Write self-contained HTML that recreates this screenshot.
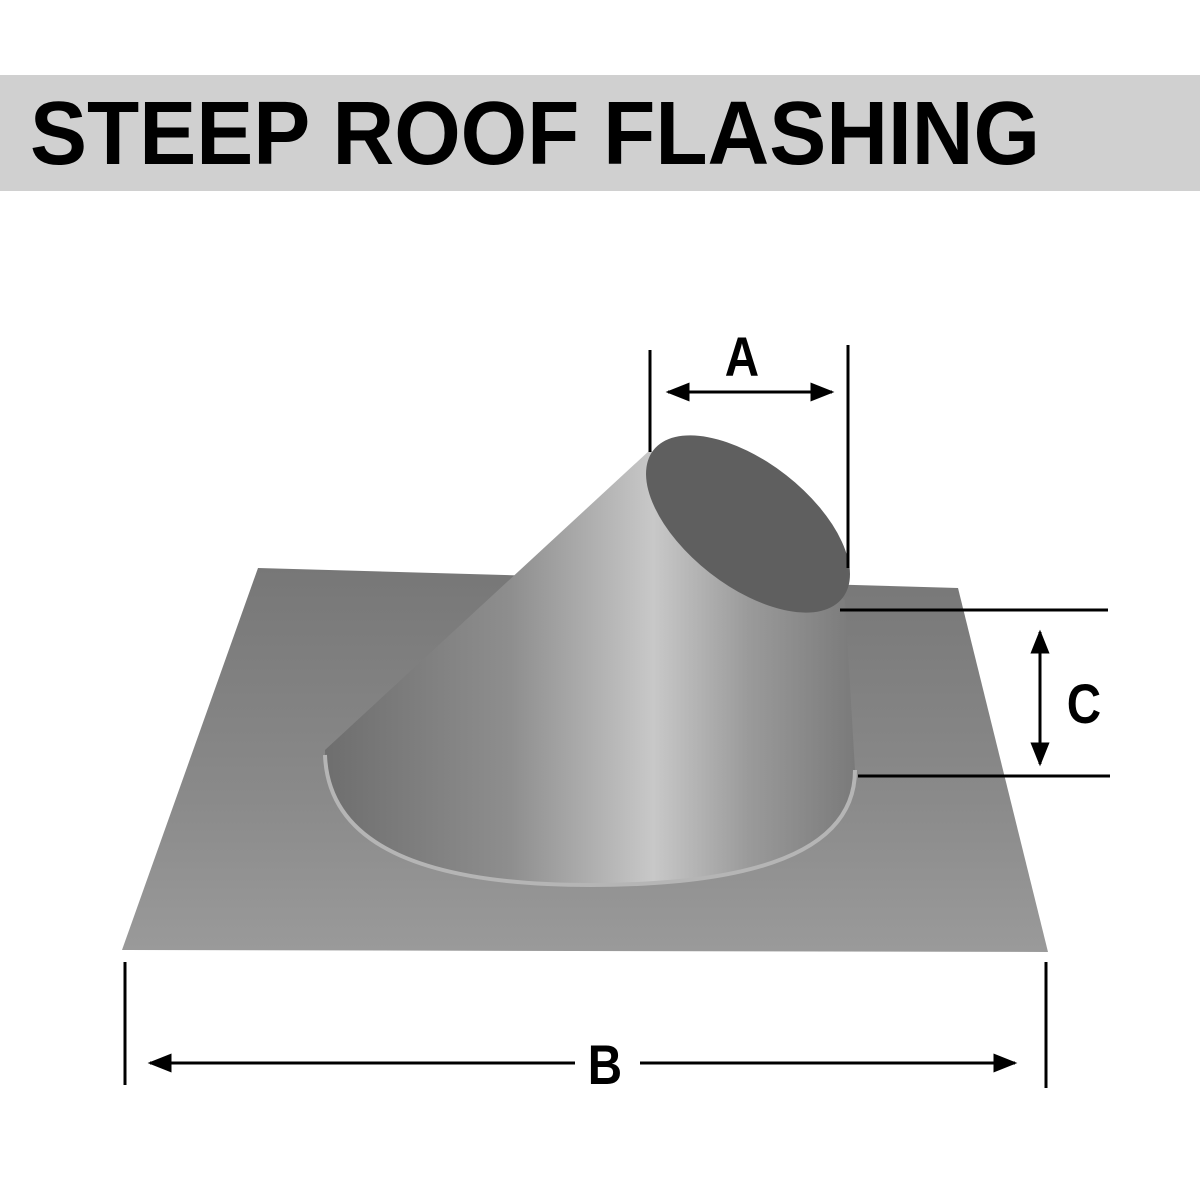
<!DOCTYPE html>
<html><head><meta charset="utf-8"><style>html,body{margin:0;padding:0;background:#fff;width:1200px;height:1200px;overflow:hidden}</style></head>
<body>
<svg width="1200" height="1200" viewBox="0 0 1200 1200" xmlns="http://www.w3.org/2000/svg">
<defs>
<linearGradient id="cone" x1="0" y1="0" x2="1" y2="0">
<stop offset="0" stop-color="#6e6e6e"/>
<stop offset="0.35" stop-color="#8e8e8e"/>
<stop offset="0.62" stop-color="#c8c8c8"/>
<stop offset="0.8" stop-color="#9a9a9a"/>
<stop offset="1" stop-color="#7a7a7a"/>
</linearGradient>
<linearGradient id="plate" x1="0" y1="0" x2="0" y2="1">
<stop offset="0" stop-color="#777"/>
<stop offset="0.6" stop-color="#8a8a8a"/>
<stop offset="1" stop-color="#9a9a9a"/>
</linearGradient>
<marker id="ar" viewBox="0 0 10 10" refX="9" refY="5" markerWidth="8" markerHeight="8" orient="auto-start-reverse"><path d="M0,1 L10,5 L0,9 z" fill="#000"/></marker>
</defs>
<rect x="0" y="75" width="1200" height="116" fill="#d0d0d0"/>
<text x="30" y="164" font-family="Liberation Sans, sans-serif" font-weight="bold" font-size="90" textLength="1010" lengthAdjust="spacingAndGlyphs" fill="#000">STEEP ROOF FLASHING</text>
<polygon points="258,568 958,588 1048,952 122,950" fill="url(#plate)"/>
<path d="M325,750 L650,450 L845,600 L855,770 Q855,885 590,885 Q325,885 325,750 Z" fill="url(#cone)"/>
<path d="M325,755 Q330,885 590,885 Q855,885 855,770" fill="none" stroke="#b5b5b5" stroke-width="4"/>
<ellipse cx="748" cy="524" rx="120" ry="62" transform="rotate(38 748 524)" fill="#5f5f5f"/>
<g stroke="#000" stroke-width="3" fill="none">
<line x1="650" y1="350" x2="650" y2="452"/>
<line x1="848" y1="345" x2="848" y2="568"/>
<line x1="668" y1="392" x2="832" y2="392" marker-start="url(#ar)" marker-end="url(#ar)"/>
<line x1="840" y1="610" x2="1108" y2="610"/>
<line x1="858" y1="776" x2="1110" y2="776"/>
<line x1="1040" y1="632" x2="1040" y2="764" marker-start="url(#ar)" marker-end="url(#ar)"/>
<line x1="125" y1="962" x2="125" y2="1085"/>
<line x1="1046" y1="962" x2="1046" y2="1088"/>
<line x1="150" y1="1063" x2="575" y2="1063" marker-start="url(#ar)"/>
<line x1="640" y1="1063" x2="1015" y2="1063" marker-end="url(#ar)"/>
</g>
<g font-family="Liberation Sans, sans-serif" font-weight="bold" font-size="56" fill="#000" text-anchor="middle">
<text x="742" y="376" transform="scale(0.85 1)" transform-origin="742 376">A</text>
<text x="1084" y="723" transform="scale(0.85 1)" transform-origin="1084 723">C</text>
<text x="605" y="1084" transform="scale(0.85 1)" transform-origin="605 1084">B</text>
</g>
</svg>
</body></html>
